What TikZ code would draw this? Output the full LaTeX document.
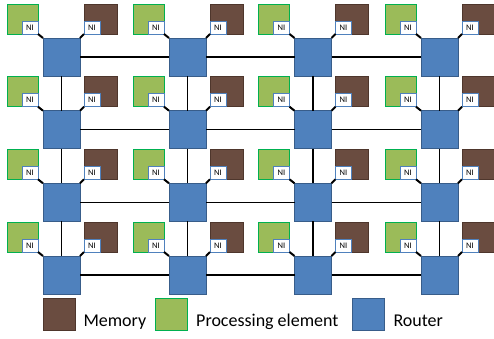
\documentclass[tikz,border=0pt]{standalone}
\usepackage{fontspec}
\setmainfont{Carlito}
\definecolor{pefill}{HTML}{9BBB59}
\definecolor{pedraw}{HTML}{00B050}
\definecolor{memfill}{HTML}{6A4C40}
\definecolor{memdraw}{HTML}{4E362C}
\definecolor{routerfill}{HTML}{4F81BD}
\definecolor{routerdraw}{HTML}{385D8A}
\definecolor{nidraw}{HTML}{4F81BD}
\begin{document}
\begin{tikzpicture}[x=1pt,y=-1pt,
  box/.style={inner sep=0pt, outer sep=0pt, anchor=north west},
  router/.style={box, draw=routerdraw, fill=routerfill, line width=0.9pt, minimum width=37pt, minimum height=38pt},
  pe/.style={box, draw=pedraw, fill=pefill, line width=1pt, minimum width=31pt, minimum height=30pt},
  mem/.style={box, draw=memdraw, fill=memfill, line width=0.8pt, minimum width=33pt, minimum height=30pt},
  ni/.style={draw=nidraw, fill=white, line width=0.8pt, inner sep=0pt, outer sep=0pt, minimum width=16pt, minimum height=13pt, font=\fontsize{8.5}{8.5}\selectfont},
  conn/.style={black, line width=2pt},
  link/.style={black, line width=1.3pt},
  legtext/.style={anchor=base west, inner sep=0pt, font=\fontsize{18}{21}\selectfont}
]
\useasboundingbox (0,0) rectangle (494,338);
\foreach \c/\x in {1/43,2/169,3/294.5,4/421}{
  \foreach \r/\y in {1/38,2/110.7,3/183.3,4/256}{
    \node[router] (r\c\r) at (\x,\y) {};
    \node[pe] (p\c\r) at (\x-36,\y-34) {};
    \node[mem] (m\c\r) at (\x+41,\y-34) {};
    \node[ni, anchor=south east] (np\c\r) at (p\c\r.south east) {NI};
    \node[ni, anchor=south west] (nm\c\r) at (m\c\r.south west) {NI};
    \draw[conn] (np\c\r.south east) -- (r\c\r.north west);
    \draw[conn] (nm\c\r.south west) -- (r\c\r.north east);
  }
}
\foreach \r in {1,2,3,4}{
  \foreach \c/\n in {1/2,2/3,3/4}{
    \draw[link] (r\c\r.east) -- (r\n\r.west);
  }
}
\foreach \c in {1,2,3,4}{
  \foreach \r/\n in {1/2,2/3,3/4}{
    \draw[link] (r\c\r.south) -- (r\c\n.north);
  }
}
% legend
\node[mem, minimum width=32pt, minimum height=32pt] (lm) at (43,298) {};
\node[legtext] (lmt) at (83.3,326) {Memory};
\node[pe, minimum width=32pt, minimum height=32pt] (lp) at (155.5,298) {};
\node[legtext] (lpt) at (196,326) {Processing element};
\node[router, minimum width=32pt, minimum height=32pt] (lr) at (352,298) {};
\node[legtext] (lrt) at (393.3,326) {Router};
\end{tikzpicture}
\end{document}
